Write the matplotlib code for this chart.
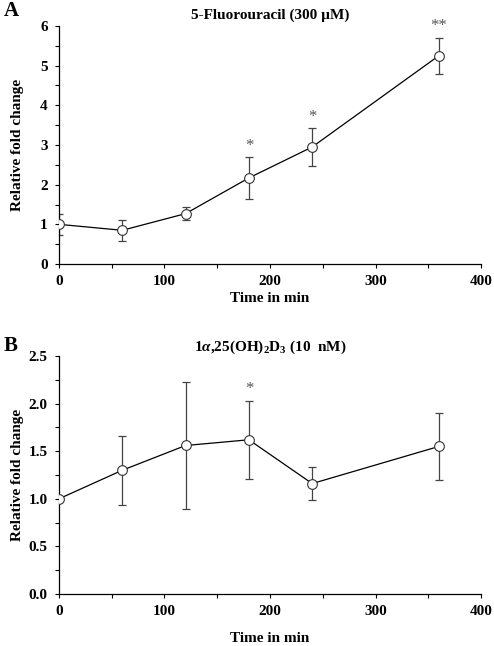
import matplotlib.pyplot as plt
from matplotlib.ticker import MultipleLocator

plt.rcParams['font.family'] = ['Liberation Serif', 'DejaVu Serif']
plt.rcParams['font.weight'] = 'bold'
plt.rcParams['mathtext.fontset'] = 'custom'
plt.rcParams['mathtext.rm'] = 'Liberation Serif:bold'
plt.rcParams['mathtext.it'] = 'Liberation Serif:italic:bold'

# time points (min)
time = [0, 60, 120, 180, 240, 360]

# panel A: 5-Fluorouracil
fu_mean = [1.0, 0.85, 1.27, 2.17, 2.95, 5.25]
fu_err = [0.27, 0.26, 0.16, 0.54, 0.47, 0.45]
fu_stars = {180: ('*', 2.97), 240: ('*', 3.70), 360: ('**', 6.0)}

# panel B: 1a,25(OH)2D3
vd_mean = [1.0, 1.30, 1.56, 1.62, 1.16, 1.55]
vd_err = [0.0, 0.36, 0.67, 0.41, 0.17, 0.35]
vd_stars = {180: ('*', 2.15)}

fig = plt.figure(figsize=(4.94, 6.46), dpi=100)
axA = fig.add_axes([0.1194, 0.5913, 0.8543, 0.3685])
axB = fig.add_axes([0.1194, 0.0805, 0.8543, 0.3684])


def draw(ax, mean, err, stars, ymax, ymajor, yfmt, xpad):
    ax.errorbar(time, mean, yerr=err, fmt='none', ecolor='#444444',
                elinewidth=0.9, capsize=3, capthick=0.9, zorder=2)
    ax.plot(time, mean, color='black', lw=0.9, marker='o', ms=7,
            mfc='white', mec='#333333', mew=0.8, zorder=3)
    for x, (s, y) in stars.items():
        ax.text(x, y, s, ha='center', va='center', fontsize=12,
                fontweight='normal', color='#555555')
    ax.set_xlim(0, 400)
    ax.set_ylim(0, ymax)
    ax.xaxis.set_major_locator(MultipleLocator(100))
    ax.xaxis.set_minor_locator(MultipleLocator(50))
    ax.yaxis.set_major_locator(MultipleLocator(ymajor))
    ax.yaxis.set_minor_locator(MultipleLocator(ymajor / 2))
    ax.yaxis.set_major_formatter(yfmt)
    ax.spines['top'].set_visible(False)
    ax.spines['right'].set_visible(False)
    for sp in ax.spines.values():
        sp.set_linewidth(0.9)
    ax.tick_params(which='both', direction='out', length=3, width=0.8,
                   labelsize=11, pad=5)
    ax.set_xlabel('Time in min', fontsize=11, fontweight='bold', labelpad=xpad)
    ax.set_ylabel('Relative fold change', fontsize=11, fontweight='bold')
    ax.yaxis.set_label_coords(-0.082, 0.5)
    for lab in ax.get_xticklabels() + ax.get_yticklabels():
        lab.set_fontweight('bold')


draw(axA, fu_mean, fu_err, fu_stars, 6, 1, '{x:.0f}', 3)
draw(axB, vd_mean, vd_err, vd_stars, 2.5, 0.5, '{x:.1f}', 10)

axA.set_title('5-Fluorouracil (300 µM)', fontsize=11, fontweight='bold', pad=5)
axB.set_title(r'1$\alpha$,25(OH)$_2$D$_3$ (10  nM)', fontsize=11,
              fontweight='bold', pad=4)

fig.text(0.008, 0.983, 'A', fontsize=15, fontweight='bold', va='center')
fig.text(0.008, 0.464, 'B', fontsize=15, fontweight='bold', va='center')

fig.savefig('out.png', dpi=100)
